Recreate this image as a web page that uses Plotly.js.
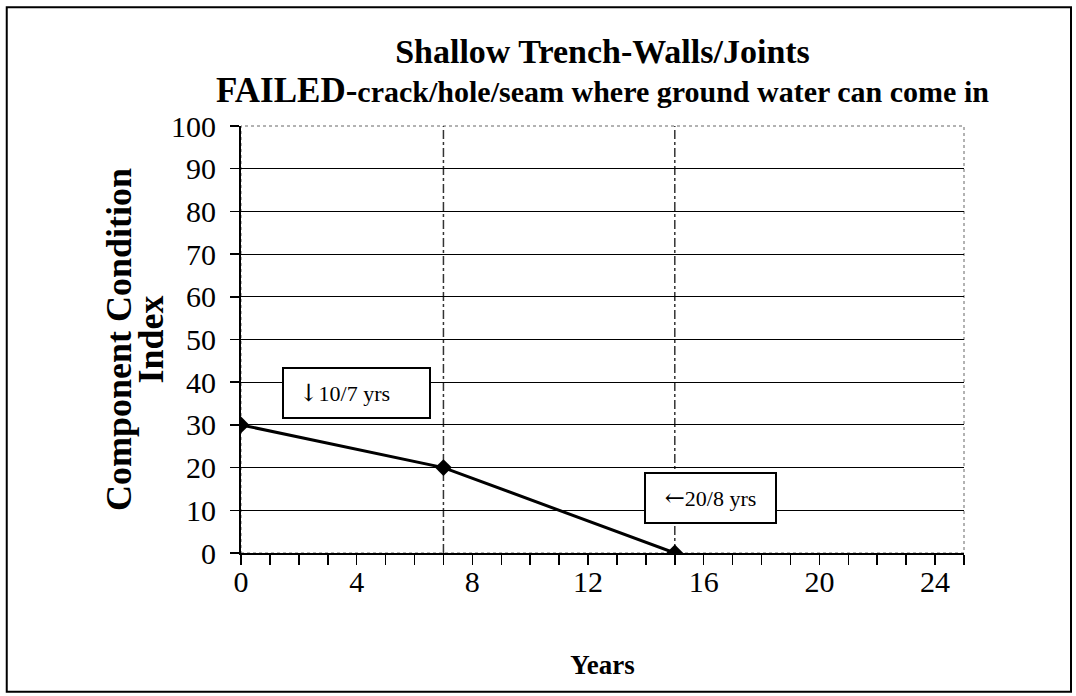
<!DOCTYPE html>
<html>
<head>
<meta charset="utf-8">
<script src="https://cdn.plot.ly/plotly-3.0.1.min.js"></script>
<style>html,body{margin:0;padding:0;background:#fff;}#chart{width:1076px;height:696px;}</style>
</head>
<body>
<div id="chart"></div>
<script>
// Data
const years = [0, 7, 15];
const conditionIndex = [30, 20, 0];
const xTickVals = [0, 4, 8, 12, 16, 20, 24];
const yTickVals = [0, 10, 20, 30, 40, 50, 60, 70, 80, 90, 100];
const boxArrows = ["\u2193", "\u2190"];
const boxLabels = ["10/7 yrs", "20/8 yrs"];
const boxLabelX = [3.98, 16.24];
const boxLabelY = [37.5, 12.9];

const serif = "Liberation Serif, Times New Roman, serif";

const trace = {
  x: years, y: conditionIndex,
  type: "scatter", mode: "lines+markers",
  line: {color: "#000", width: 3},
  marker: {symbol: "diamond", size: 13, color: "#000"},
  hoverinfo: "skip", showlegend: false
};

// vertical dash-dot guides at the breakpoints (except the start)
const guides = years.slice(1).map(v => ({
  type: "line", xref: "x", yref: "y", x0: v, x1: v, y0: 0, y1: 100,
  line: {color: "#333", width: 1.5, dash: "dashdot"}, layer: "below"
}));

const shapes = guides.concat([
  {type: "rect", xref: "paper", yref: "paper", x0: 0, x1: 1, y0: 0, y1: 1,
   line: {color: "#666", width: 1, dash: "dot"}, layer: "below"},
  {type: "rect", xref: "paper", yref: "paper", x0: -0.324, x1: 1.148, y0: -0.325, y1: 1.278,
   line: {color: "#000", width: 2}}
]);

const annotations = boxLabels.map((t, i) => ({
  x: boxLabelX[i], y: boxLabelY[i], xref: "x", yref: "y",
  text: (i === 0 ? "\u00a0" : "") + "<span style=\"font-family:DejaVu Serif;font-size:24px\">" + boxArrows[i] + "</span>" + t,
  showarrow: false,
  font: {family: serif, size: 22, color: "#000"},
  bgcolor: "#fff", bordercolor: "#000", borderwidth: 2, borderpad: 9,
  width: i === 0 ? 127 : 111, height: 30,
  align: i === 0 ? "left" : "center", valign: "middle"
}));

const layout = {
  width: 1076, height: 696,
  margin: {l: 241, r: 112, t: 126, b: 143},
  paper_bgcolor: "#fff", plot_bgcolor: "#fff",
  font: {family: serif, color: "#000"},
  title: {
    text: "<b><span style=\"font-size:34px\">Shallow Trench-Walls/Joints</span></b><br><b><span style=\"font-size:35px\">FAILED-</span><span style=\"font-size:30px\">crack/hole/seam where ground water can come in</span></b>",
    font: {family: serif, size: 30, color: "#000"},
    x: 0.5, xref: "paper", xanchor: "center",
    y: 1 - 63 / 696, yref: "container", yanchor: "top"
  },
  xaxis: {
    range: [0, 25], tickvals: xTickVals, ticks: "outside", ticklen: 10, tickwidth: 1.5, tickcolor: "#000",
    minor: {dtick: 1, tick0: 0, ticks: "outside", ticklen: 10, tickwidth: 1.5, tickcolor: "#000", showgrid: false},
    showline: true, linecolor: "#000", linewidth: 2, showgrid: false, zeroline: false,
    tickfont: {family: serif, size: 30, color: "#000"}, ticklabelstandoff: -9,
    title: {text: "<b>Years</b>", font: {family: serif, size: 27, color: "#000"}, standoff: 58}
  },
  yaxis: {
    range: [0, 100], tickvals: yTickVals, ticks: "outside", ticklen: 9, tickwidth: 1.5, tickcolor: "#000",
    showline: true, linecolor: "#000", linewidth: 2, showgrid: true, gridcolor: "#000", gridwidth: 1, zeroline: false,
    tickfont: {family: serif, size: 30, color: "#000"}, ticklabelstandoff: 8,
    title: {text: "<b><span style=\"font-size:36px\">Component Condition</span><br><span style=\"font-size:36px\">Index</span></b>",
            font: {family: serif, size: 25, color: "#000"}, standoff: 0}
  },
  shapes: shapes,
  annotations: annotations
};

Plotly.newPlot("chart", [trace], layout, {displayModeBar: false, staticPlot: true});
</script>
</body>
</html>
